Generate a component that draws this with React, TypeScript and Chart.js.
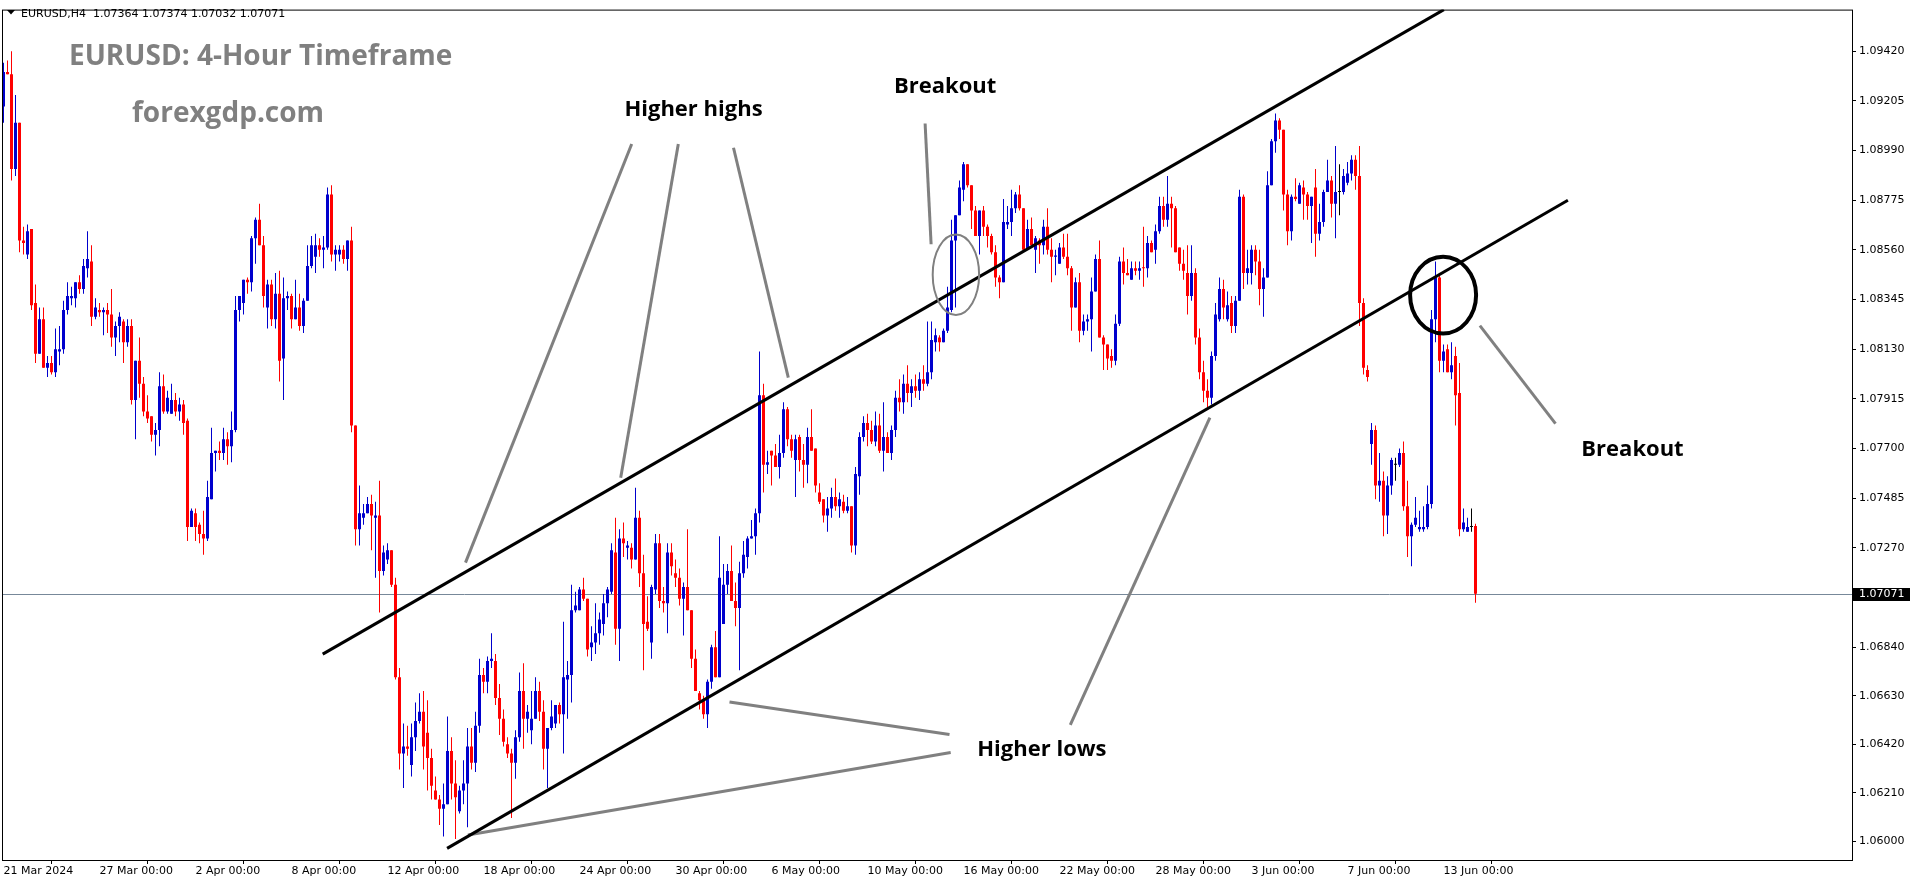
import { useEffect, useRef } from "react";
import { Chart, registerables } from "chart.js";

Chart.register(...registerables);

// ---------- header / titles ----------
const symbolHeader = "EURUSD,H4  1.07364 1.07374 1.07032 1.07071";
const chartTitle = "EURUSD: 4-Hour Timeframe";
const siteName = "forexgdp.com";

// ---------- EURUSD H4 candles (21 Mar 2024 00:00 .. 14 Jun 2024) ----------
const opens = [
  1.0918, 1.0933, 1.0932, 1.0891, 1.0911, 1.0860, 1.0854, 1.0865, 1.0833, 1.0811,
  1.0826, 1.0805, 1.0807, 1.0803, 1.0812, 1.0813, 1.0830, 1.0835, 1.0835, 1.0842,
  1.0839, 1.0848, 1.0851, 1.0827, 1.0830, 1.0829, 1.0830, 1.0828, 1.0818, 1.0823,
  1.0825, 1.0816, 1.0823, 1.0791, 1.0808, 1.0798, 1.0786, 1.0784, 1.0776, 1.0778,
  1.0797, 1.0786, 1.0785, 1.0791, 1.0786, 1.0789, 1.0782, 1.0736, 1.0742, 1.0737,
  1.0733, 1.0731, 1.0748, 1.0768, 1.0769, 1.0768, 1.0774, 1.0771, 1.0778, 1.0830,
  1.0833, 1.0843, 1.0842, 1.0861, 1.0869, 1.0858, 1.0831, 1.0841, 1.0826, 1.0837,
  1.0809, 1.0835, 1.0836, 1.0826, 1.0831, 1.0823, 1.0834, 1.0849, 1.0853, 1.0858,
  1.0856, 1.0857, 1.0880, 1.0854, 1.0854, 1.0856, 1.0852, 1.0860, 1.0780, 1.0735,
  1.0740, 1.0742, 1.0746, 1.0740, 1.0741, 1.0717, 1.0722, 1.0726, 1.0711, 1.0671,
  1.0638, 1.0641, 1.0633, 1.0645, 1.0652, 1.0656, 1.0647, 1.0636, 1.0622, 1.0618,
  1.0614, 1.0616, 1.0639, 1.0625, 1.0613, 1.0622, 1.0625, 1.0641, 1.0634, 1.0650,
  1.0672, 1.0669, 1.0678, 1.0678, 1.0662, 1.0653, 1.0642, 1.0638, 1.0634, 1.0645,
  1.0665, 1.0653, 1.0648, 1.0653, 1.0665, 1.0656, 1.0640, 1.0649, 1.0651, 1.0659,
  1.0655, 1.0670, 1.0672, 1.0700, 1.0700, 1.0709, 1.0705, 1.0684, 1.0686, 1.0690,
  1.0694, 1.0703, 1.0708, 1.0725, 1.0692, 1.0731, 1.0727, 1.0727, 1.0722, 1.0740,
  1.0716, 1.0695, 1.0686, 1.0709, 1.0729, 1.0704, 1.0703, 1.0725, 1.0716, 1.0714,
  1.0705, 1.0710, 1.0700, 1.0679, 1.0664, 1.0661, 1.0655, 1.0669, 1.0684, 1.0671,
  1.0694, 1.0711, 1.0717, 1.0704, 1.0701, 1.0716, 1.0723, 1.0731, 1.0732, 1.0742,
  1.0793, 1.0763, 1.0769, 1.0767, 1.0762, 1.0768, 1.0787, 1.0774, 1.0765, 1.0775,
  1.0765, 1.0763, 1.0775, 1.0770, 1.0751, 1.0748, 1.0741, 1.0744, 1.0749, 1.0745,
  1.0747, 1.0743, 1.0745, 1.0728, 1.0758, 1.0775, 1.0781, 1.0778, 1.0773, 1.0780,
  1.0769, 1.0775, 1.0768, 1.0778, 1.0792, 1.0790, 1.0798, 1.0794, 1.0797, 1.0795,
  1.0800, 1.0798, 1.0803, 1.0816, 1.0818, 1.0816, 1.0821, 1.0830, 1.0860, 1.0871,
  1.0882, 1.0893, 1.0884, 1.0873, 1.0862, 1.0873, 1.0866, 1.0862, 1.0855, 1.0844,
  1.0842, 1.0867, 1.0868, 1.0874, 1.0880, 1.0874, 1.0856, 1.0865, 1.0856, 1.0860,
  1.0858, 1.0866, 1.0856, 1.0853, 1.0850, 1.0857, 1.0853, 1.0848, 1.0831, 1.0842,
  1.0821, 1.0825, 1.0826, 1.0838, 1.0852, 1.0818, 1.0815, 1.0810, 1.0808, 1.0824,
  1.0851, 1.0846, 1.0843, 1.0848, 1.0847, 1.08485, 1.0848, 1.0859, 1.0856, 1.0864,
  1.0875, 1.0869, 1.0876, 1.0874, 1.0857, 1.0850, 1.0846, 1.0836, 1.0846, 1.0818,
  1.0803, 1.0795, 1.0792, 1.0810, 1.0826, 1.0839, 1.0826, 1.0833, 1.0823, 1.0834,
  1.0879, 1.0846, 1.0846, 1.0856, 1.0851, 1.0839, 1.0844, 1.0884, 1.0903, 1.0912,
  1.0908, 1.0880, 1.0864, 1.0879, 1.0876, 1.0883, 1.0880, 1.0875, 1.0883, 1.0863,
  1.0868, 1.0881, 1.0886, 1.0876, 1.0881, 1.0881, 1.0885, 1.0889, 1.0895, 1.0888,
  1.0833, 1.0804, 1.0772, 1.0778, 1.0754, 1.0756, 1.0741, 1.0754, 1.0763, 1.0763,
  1.0768, 1.0745, 1.0732, 1.0737, 1.0735, 1.0735, 1.0736, 1.0746, 1.0826, 1.0844,
  1.0808, 1.0813, 1.0803, 1.0810, 1.0794, 1.0735, 1.0734, 1.0736, 1.07364,
];
const highs = [
  1.0937, 1.0938, 1.0942, 1.0923, 1.0911, 1.0866, 1.0867, 1.0865, 1.0841, 1.0831,
  1.0831, 1.0810, 1.0810, 1.0822, 1.0823, 1.0834, 1.0842, 1.0840, 1.0842, 1.0845,
  1.0852, 1.0864, 1.0858, 1.0835, 1.0833, 1.0831, 1.0833, 1.0839, 1.0825, 1.0829,
  1.0826, 1.0826, 1.0826, 1.0808, 1.0818, 1.0801, 1.0793, 1.0784, 1.0781, 1.0803,
  1.0802, 1.0795, 1.0798, 1.0794, 1.0792, 1.0791, 1.0783, 1.0744, 1.0744, 1.0738,
  1.0743, 1.0756, 1.0779, 1.0769, 1.0773, 1.0779, 1.0777, 1.0786, 1.0836, 1.0836,
  1.0843, 1.0844, 1.0862, 1.0870, 1.0876, 1.0862, 1.0843, 1.0843, 1.0846, 1.0847,
  1.0844, 1.0838, 1.0837, 1.0843, 1.0837, 1.0835, 1.0858, 1.0862, 1.0863, 1.0861,
  1.0862, 1.0883, 1.0884, 1.0858, 1.0858, 1.0858, 1.0860, 1.0866, 1.0780, 1.0754,
  1.0746, 1.0749, 1.0750, 1.0747, 1.0756, 1.0728, 1.0729, 1.0726, 1.0714, 1.0675,
  1.0651, 1.0650, 1.0651, 1.0660, 1.0664, 1.0665, 1.0661, 1.0640, 1.0628, 1.0620,
  1.0625, 1.0654, 1.0645, 1.0635, 1.0624, 1.0635, 1.0649, 1.0649, 1.0656, 1.0679,
  1.0675, 1.0680, 1.0690, 1.0681, 1.0668, 1.0657, 1.0645, 1.0640, 1.0648, 1.0673,
  1.0677, 1.0659, 1.0665, 1.0671, 1.0669, 1.0661, 1.0649, 1.0661, 1.0659, 1.0660,
  1.0695, 1.0678, 1.0711, 1.0708, 1.0710, 1.0714, 1.0705, 1.0693, 1.0703, 1.0699,
  1.0707, 1.0710, 1.0729, 1.0740, 1.0735, 1.0738, 1.0730, 1.0729, 1.0753, 1.0743,
  1.0724, 1.0706, 1.0711, 1.0733, 1.0733, 1.0710, 1.0729, 1.0729, 1.0722, 1.0718,
  1.0712, 1.0735, 1.0700, 1.0683, 1.0665, 1.0663, 1.0670, 1.0685, 1.0691, 1.0732,
  1.0720, 1.0720, 1.0728, 1.0712, 1.0721, 1.0730, 1.0732, 1.0739, 1.0744, 1.0812,
  1.0798, 1.0769, 1.0769, 1.0772, 1.0776, 1.0790, 1.0788, 1.0776, 1.0776, 1.0776,
  1.0772, 1.0779, 1.0787, 1.0770, 1.0755, 1.0748, 1.0749, 1.0753, 1.0757, 1.0751,
  1.0750, 1.0749, 1.0745, 1.0762, 1.0777, 1.0784, 1.0785, 1.0782, 1.0786, 1.0785,
  1.0790, 1.0777, 1.0780, 1.0795, 1.0800, 1.0802, 1.0806, 1.0800, 1.0802, 1.0803,
  1.0806, 1.0825, 1.0825, 1.0822, 1.0819, 1.0822, 1.0840, 1.0869, 1.0871, 1.0886,
  1.0894, 1.0893, 1.0884, 1.0875, 1.0873, 1.0875, 1.0867, 1.0863, 1.0858, 1.0845,
  1.0878, 1.0875, 1.0882, 1.0881, 1.0884, 1.0874, 1.0869, 1.0870, 1.0862, 1.0861,
  1.0869, 1.0874, 1.0861, 1.0856, 1.0859, 1.0863, 1.0863, 1.0849, 1.0844, 1.0846,
  1.0828, 1.0828, 1.0844, 1.0854, 1.0860, 1.0819, 1.0815, 1.0813, 1.0828, 1.0853,
  1.0857, 1.0852, 1.0851, 1.0851, 1.0851, 1.0866, 1.0862, 1.0860, 1.0867, 1.0879,
  1.0879, 1.0888, 1.0879, 1.0875, 1.0857, 1.0856, 1.0858, 1.0858, 1.0848, 1.0822,
  1.0808, 1.0800, 1.0812, 1.0833, 1.0844, 1.0843, 1.0838, 1.0836, 1.0836, 1.0882,
  1.0880, 1.0856, 1.0858, 1.0858, 1.0856, 1.0848, 1.0890, 1.0904, 1.0915, 1.0913,
  1.0908, 1.0882, 1.0880, 1.0887, 1.0885, 1.0886, 1.0881, 1.0879, 1.0891, 1.0876,
  1.0882, 1.0895, 1.0888, 1.0901, 1.0893, 1.0891, 1.0894, 1.0897, 1.0897, 1.0901,
  1.0835, 1.0806, 1.0781, 1.0780, 1.0768, 1.0760, 1.0758, 1.0766, 1.0766, 1.0770,
  1.0773, 1.0756, 1.0738, 1.0749, 1.0743, 1.0745, 1.0754, 1.0830, 1.0851, 1.0845,
  1.0815, 1.0815, 1.0816, 1.0814, 1.0807, 1.0744, 1.0740, 1.0744, 1.07374,
];
const lows = [
  1.0911, 1.0932, 1.0886, 1.0888, 1.0855, 1.0854, 1.0852, 1.0830, 1.0807, 1.0811,
  1.0805, 1.0801, 1.0802, 1.0801, 1.0806, 1.0811, 1.0828, 1.0832, 1.0831, 1.0837,
  1.0837, 1.0844, 1.0823, 1.0826, 1.0827, 1.0819, 1.0820, 1.0814, 1.0810, 1.0816,
  1.0807, 1.0814, 1.0789, 1.0774, 1.0792, 1.0784, 1.0781, 1.0773, 1.0767, 1.0771,
  1.0785, 1.0785, 1.0785, 1.0784, 1.0782, 1.0776, 1.0730, 1.0736, 1.0730, 1.0729,
  1.0724, 1.0730, 1.0748, 1.0760, 1.0765, 1.0765, 1.0763, 1.0764, 1.0777, 1.0825,
  1.0828, 1.0837, 1.0838, 1.0850, 1.0858, 1.0831, 1.0822, 1.0823, 1.0822, 1.0799,
  1.0791, 1.0830, 1.0822, 1.0826, 1.0821, 1.0820, 1.0834, 1.0848, 1.0846, 1.0853,
  1.0848, 1.0856, 1.0851, 1.0847, 1.0851, 1.0850, 1.0847, 1.0777, 1.0728, 1.0728,
  1.0737, 1.0742, 1.0726, 1.0714, 1.0699, 1.0715, 1.0720, 1.0710, 1.0670, 1.0631,
  1.0623, 1.0637, 1.0628, 1.0639, 1.0651, 1.0631, 1.0622, 1.0618, 1.0618, 1.0607,
  1.0602, 1.0616, 1.0618, 1.0601, 1.0612, 1.0616, 1.0606, 1.0631, 1.0630, 1.0647,
  1.0664, 1.0664, 1.0675, 1.0659, 1.0646, 1.0641, 1.0636, 1.0610, 1.0627, 1.0643,
  1.0640, 1.0647, 1.0642, 1.0653, 1.0652, 1.0631, 1.0623, 1.0648, 1.0649, 1.0651,
  1.0638, 1.0653, 1.0660, 1.0699, 1.0700, 1.0704, 1.0680, 1.0678, 1.0681, 1.0685,
  1.0689, 1.0697, 1.0707, 1.0685, 1.0678, 1.0723, 1.0722, 1.0718, 1.0722, 1.0710,
  1.0674, 1.0691, 1.0679, 1.0707, 1.0701, 1.0699, 1.0690, 1.0715, 1.0710, 1.0702,
  1.0689, 1.0700, 1.0675, 1.0665, 1.0657, 1.0653, 1.0649, 1.0666, 1.0671, 1.0671,
  1.0694, 1.0707, 1.0704, 1.0693, 1.0674, 1.0714, 1.0718, 1.0731, 1.0724, 1.0738,
  1.0751, 1.0759, 1.0754, 1.0762, 1.0757, 1.0766, 1.0771, 1.0766, 1.0749, 1.0760,
  1.0753, 1.0755, 1.0769, 1.0751, 1.0746, 1.0738, 1.0734, 1.0740, 1.0743, 1.0740,
  1.0742, 1.0742, 1.0725, 1.0724, 1.0750, 1.0773, 1.0771, 1.0772, 1.0771, 1.0768,
  1.0760, 1.0768, 1.0765, 1.0775, 1.0786, 1.0785, 1.0790, 1.0788, 1.0792, 1.0791,
  1.0795, 1.0797, 1.0800, 1.0812, 1.0812, 1.0816, 1.0820, 1.0829, 1.0831, 1.0871,
  1.0877, 1.0883, 1.0865, 1.0862, 1.0854, 1.0862, 1.0857, 1.0854, 1.0840, 1.0835,
  1.0842, 1.0865, 1.0862, 1.0872, 1.0873, 1.0856, 1.0856, 1.0858, 1.0846, 1.0850,
  1.0854, 1.0854, 1.0842, 1.0845, 1.0850, 1.0852, 1.0845, 1.0821, 1.0831, 1.0816,
  1.0819, 1.0821, 1.0812, 1.0838, 1.0818, 1.0804, 1.0804, 1.0805, 1.0806, 1.0823,
  1.0841, 1.0845, 1.0843, 1.0845, 1.0843, 1.0840, 1.0844, 1.0855, 1.0850, 1.0863,
  1.0866, 1.0866, 1.0857, 1.0855, 1.0847, 1.0843, 1.0828, 1.0834, 1.0815, 1.0800,
  1.0790, 1.0788, 1.0789, 1.0808, 1.0825, 1.0826, 1.0825, 1.0820, 1.0820, 1.0834,
  1.0839, 1.0841, 1.0841, 1.0845, 1.0832, 1.0827, 1.0844, 1.0884, 1.0898, 1.0904,
  1.0873, 1.0858, 1.0860, 1.0877, 1.0876, 1.0869, 1.0869, 1.0859, 1.0853, 1.0860,
  1.0866, 1.0881, 1.0870, 1.0861, 1.0871, 1.0880, 1.0884, 1.0886, 1.0882, 1.0823,
  1.0802, 1.0799, 1.0763, 1.0748, 1.0747, 1.0732, 1.0733, 1.0750, 1.0756, 1.0762,
  1.0743, 1.0723, 1.0719, 1.0736, 1.0734, 1.0734, 1.0735, 1.0744, 1.0816, 1.0803,
  1.0803, 1.0803, 1.0800, 1.0780, 1.0732, 1.0734, 1.0734, 1.0734, 1.07032,
];
const closes = [
  1.0933, 1.0932, 1.0891, 1.0911, 1.0860, 1.0859, 1.0864, 1.0832, 1.0811, 1.0826,
  1.0805, 1.0807, 1.0803, 1.0813, 1.0813, 1.0830, 1.0836, 1.0836, 1.0842, 1.0839,
  1.0849, 1.0852, 1.0827, 1.0831, 1.0829, 1.0830, 1.0828, 1.0818, 1.0823, 1.0827,
  1.0816, 1.0823, 1.0791, 1.0808, 1.0798, 1.0786, 1.0783, 1.0776, 1.0778, 1.0797,
  1.0786, 1.0792, 1.0791, 1.0786, 1.0789, 1.0781, 1.0736, 1.0743, 1.0736, 1.0733,
  1.0731, 1.0749, 1.0768, 1.0769, 1.0768, 1.0774, 1.0771, 1.0778, 1.0830, 1.0836,
  1.0843, 1.0842, 1.0861, 1.0869, 1.0858, 1.0836, 1.0841, 1.0826, 1.0837, 1.0808,
  1.0835, 1.0836, 1.0826, 1.0831, 1.0823, 1.0834, 1.0849, 1.0858, 1.0858, 1.0856,
  1.0857, 1.0880, 1.0854, 1.0856, 1.0856, 1.0852, 1.0860, 1.0780, 1.0735, 1.0742,
  1.0742, 1.0746, 1.0741, 1.0741, 1.0717, 1.0725, 1.0726, 1.0711, 1.0671, 1.0638,
  1.0641, 1.0640, 1.0645, 1.0652, 1.0656, 1.0641, 1.0636, 1.0624, 1.0618, 1.0614,
  1.0616, 1.0639, 1.0625, 1.0619, 1.0622, 1.0625, 1.0641, 1.0634, 1.0650, 1.0672,
  1.0669, 1.0678, 1.0679, 1.0662, 1.0653, 1.0643, 1.0638, 1.0634, 1.0645, 1.0665,
  1.0653, 1.0656, 1.0653, 1.0665, 1.0656, 1.0640, 1.0649, 1.0654, 1.0659, 1.0655,
  1.0671, 1.0672, 1.0700, 1.0702, 1.0709, 1.0705, 1.0683, 1.0686, 1.0690, 1.0696,
  1.0703, 1.0709, 1.0726, 1.0692, 1.0731, 1.0729, 1.0728, 1.0722, 1.0740, 1.0716,
  1.0694, 1.0692, 1.0710, 1.0729, 1.0704, 1.0703, 1.0725, 1.0719, 1.0714, 1.0705,
  1.0710, 1.0700, 1.0679, 1.0665, 1.0661, 1.0655, 1.0669, 1.0684, 1.0671, 1.0714,
  1.0711, 1.0717, 1.0704, 1.0701, 1.0716, 1.0724, 1.0731, 1.0732, 1.0742, 1.0793,
  1.0763, 1.0764, 1.0767, 1.0762, 1.0768, 1.0787, 1.0774, 1.0769, 1.0774, 1.0765,
  1.0763, 1.0775, 1.0769, 1.0754, 1.0747, 1.0741, 1.0744, 1.0749, 1.0745, 1.0748,
  1.0743, 1.0745, 1.0728, 1.0759, 1.0775, 1.0781, 1.0778, 1.0773, 1.0780, 1.0769,
  1.0775, 1.0768, 1.0778, 1.0792, 1.0790, 1.0798, 1.0794, 1.0797, 1.0795, 1.0800,
  1.0798, 1.0803, 1.0817, 1.0819, 1.0816, 1.0821, 1.0831, 1.0860, 1.0871, 1.0883,
  1.0893, 1.0884, 1.0873, 1.0862, 1.0873, 1.0866, 1.0862, 1.0855, 1.0844, 1.0842,
  1.0868, 1.0868, 1.0874, 1.0880, 1.0874, 1.0856, 1.0865, 1.0858, 1.0861, 1.0858,
  1.0866, 1.0856, 1.0853, 1.08535, 1.0857, 1.0853, 1.0848, 1.0831, 1.0842, 1.0821,
  1.0825, 1.0826, 1.0838, 1.0852, 1.0818, 1.0815, 1.0809, 1.0808, 1.0824, 1.0851,
  1.0846, 1.0845, 1.0848, 1.0847, 1.0848, 1.0848, 1.0859, 1.0855, 1.0864, 1.0875,
  1.0869, 1.0876, 1.0874, 1.0855, 1.0850, 1.0847, 1.0836, 1.0846, 1.0818, 1.0803,
  1.0795, 1.0792, 1.0810, 1.0828, 1.0839, 1.0831, 1.0832, 1.0823, 1.0834, 1.0879,
  1.0846, 1.0848, 1.0856, 1.0851, 1.0839, 1.0844, 1.0884, 1.0903, 1.0912, 1.0908,
  1.0880, 1.0864, 1.0879, 1.0878, 1.0884, 1.0880, 1.0875, 1.0879, 1.0863, 1.0868,
  1.0881, 1.0886, 1.0876, 1.0881, 1.0881, 1.0888, 1.0889, 1.0895, 1.0888, 1.0833,
  1.0805, 1.0801, 1.0778, 1.0754, 1.0756, 1.0741, 1.0754, 1.0765, 1.0763, 1.0768,
  1.0745, 1.0732, 1.0737, 1.0740, 1.0736, 1.0736, 1.0746, 1.0826, 1.0844, 1.0808,
  1.0812, 1.0803, 1.0806, 1.0793, 1.0735, 1.0738, 1.0736, 1.0736, 1.07071,
];

// ---------- axes ----------
const dateLabelBars = [0, 24, 48, 72, 96, 120, 144, 168, 192, 216, 240, 264, 288, 312, 336, 360];
const dateLabels = [
  "21 Mar 2024", "27 Mar 00:00", "2 Apr 00:00", "8 Apr 00:00", "12 Apr 00:00", "18 Apr 00:00",
  "24 Apr 00:00", "30 Apr 00:00", "6 May 00:00", "10 May 00:00", "16 May 00:00", "22 May 00:00",
  "28 May 00:00", "3 Jun 00:00", "7 Jun 00:00", "13 Jun 00:00",
];
const priceTicks = [
  1.0942, 1.09205, 1.0899, 1.08775, 1.0856, 1.08345, 1.0813, 1.07915, 1.077, 1.07485,
  1.0727, 1.07055, 1.0684, 1.0663, 1.0642, 1.0621, 1.06,
];
const priceMin = 1.059186;
const priceMax = 1.096;
const barMin = -0.375;
const barMax = 462.125;

// ---------- annotations in (bar index, price) ----------
const channelUpper = [[79.8, 1.0681], [360.1, 1.096]];
const channelLower = [[110.9, 1.05969], [391.1, 1.08775]];
const pointerLines = [
  [[157.05, 1.09018], [115.5, 1.07206]],
  [[168.7, 1.09018], [154.3, 1.07573]],
  [[182.5, 1.09002], [196.2, 1.08007]],
  [[230.4, 1.09107], [231.9, 1.08584]],
  [[236.5, 1.06462], [181.5, 1.06603]],
  [[236.8, 1.06384], [116.1, 1.06027]],
  [[266.7, 1.06504], [301.6, 1.07834]],
  [[369.1, 1.08232], [388.0, 1.07808]],
];
const grayEllipse = { bar: 238.1, price: 1.08452, rBars: 5.8, rPrice: 0.00174 };
const blackEllipse = { bar: 359.9, price: 1.08364, rBars: 8.25, rPrice: 0.00166 };
const noteTexts = [
  { text: "Higher highs", bar: 172.5, price: 1.09166 },
  { text: "Breakout", bar: 235.4, price: 1.09266 },
  { text: "Higher lows", bar: 259.6, price: 1.06394 },
  { text: "Breakout", bar: 407.25, price: 1.07693 },
];

const BULL = "#0000CD";
const BEAR = "#FF0000";
const DOJI = "#000000";
const MT_FONT = "11px 'DejaVu Sans'";

const overlayPlugin = {
  id: "mtOverlay",
  beforeDatasetsDraw(chart: any) {
    const { ctx, chartArea: a, scales } = chart;
    const last = closes[closes.length - 1];
    const yy = Math.round(scales.y.getPixelForValue(last)) + 0.5;
    ctx.save();
    ctx.strokeStyle = "#778899";
    ctx.lineWidth = 1;
    ctx.beginPath();
    ctx.moveTo(a.left, yy);
    ctx.lineTo(a.right, yy);
    ctx.stroke();
    ctx.restore();
  },
  afterDatasetsDraw(chart: any) {
    const { ctx, chartArea: a, scales } = chart;
    const px = (b: number) => scales.x.getPixelForValue(b);
    const py = (p: number) => scales.y.getPixelForValue(p);
    ctx.save();
    ctx.beginPath();
    ctx.rect(a.left, a.top, a.right - a.left, a.bottom - a.top);
    ctx.clip();

    // gray pointer lines
    ctx.strokeStyle = "#808080";
    ctx.lineWidth = 3;
    ctx.lineCap = "butt";
    for (const seg of pointerLines) {
      ctx.beginPath();
      ctx.moveTo(px(seg[0][0]), py(seg[0][1]));
      ctx.lineTo(px(seg[1][0]), py(seg[1][1]));
      ctx.stroke();
    }

    // channel lines
    ctx.strokeStyle = "#000000";
    ctx.lineWidth = 3;
    for (const seg of [channelUpper, channelLower]) {
      ctx.beginPath();
      ctx.moveTo(px(seg[0][0]), py(seg[0][1]));
      ctx.lineTo(px(seg[1][0]), py(seg[1][1]));
      ctx.stroke();
    }

    // ellipses
    const drawEllipse = (e: any, color: string, w: number) => {
      const cx = px(e.bar);
      const cy = py(e.price);
      const rx = Math.abs(px(e.bar + e.rBars) - cx);
      const ry = Math.abs(py(e.price + e.rPrice) - cy);
      ctx.strokeStyle = color;
      ctx.lineWidth = w;
      ctx.beginPath();
      ctx.ellipse(cx, cy, rx, ry, 0, 0, Math.PI * 2);
      ctx.stroke();
    };
    drawEllipse(grayEllipse, "#808080", 2);
    drawEllipse(blackEllipse, "#000000", 4);

    // annotation texts
    ctx.fillStyle = "#000000";
    ctx.font = "bold 22px 'Open Sans'";
    ctx.textAlign = "center";
    ctx.textBaseline = "middle";
    for (const t of noteTexts) ctx.fillText(t.text, px(t.bar), py(t.price));

    // titles
    ctx.fillStyle = "#808080";
    ctx.textAlign = "left";
    ctx.textBaseline = "alphabetic";
    ctx.font = "bold 28px 'Open Sans'";
    ctx.fillText(chartTitle, 69, 65);
    ctx.fillText(siteName, 132, 122);
    ctx.restore();
  },
  afterDraw(chart: any) {
    const { ctx, chartArea: a, scales } = chart;
    ctx.save();
    // frame
    ctx.strokeStyle = "#000000";
    ctx.lineWidth = 1;
    ctx.strokeRect(a.left + 0.5, a.top + 0.5, a.right - a.left, a.bottom - a.top);

    // header
    ctx.fillStyle = "#000000";
    ctx.beginPath();
    ctx.moveTo(7, 10);
    ctx.lineTo(15, 10);
    ctx.lineTo(11, 14.5);
    ctx.closePath();
    ctx.fill();
    ctx.font = MT_FONT;
    ctx.textAlign = "left";
    ctx.textBaseline = "alphabetic";
    ctx.fillText(symbolHeader, 21, 17);

    // current price label
    const last = closes[closes.length - 1];
    const yy = Math.round(scales.y.getPixelForValue(last));
    ctx.fillStyle = "#000000";
    ctx.fillRect(a.right + 1, yy - 6, 57, 13);
    ctx.fillStyle = "#FFFFFF";
    ctx.textBaseline = "middle";
    ctx.fillText(last.toFixed(5), a.right + 7, yy + 0.5);
    ctx.restore();
  },
};

export default function App() {
  const canvasRef = useRef<HTMLCanvasElement | null>(null);

  useEffect(() => {
    const n = closes.length;
    const bodies: any[] = [];
    const wicks: any[] = [];
    const colors: string[] = [];
    for (let i = 0; i < n; i++) {
      const o = opens[i];
      const c = closes[i];
      bodies.push({ x: i, y: [Math.min(o, c), Math.max(o, c)] });
      wicks.push({ x: i, y: [lows[i], highs[i]] });
      colors.push(c > o ? BULL : c < o ? BEAR : DOJI);
    }

    const chart = new Chart(canvasRef.current as HTMLCanvasElement, {
      type: "bar",
      data: {
        datasets: [
          {
            data: bodies,
            backgroundColor: colors,
            borderWidth: 0,
            barThickness: 3,
            grouped: false,
            minBarLength: 1,
            inflateAmount: 0,
          } as any,
          {
            data: wicks,
            backgroundColor: colors,
            borderWidth: 0,
            barThickness: 1,
            grouped: false,
            inflateAmount: 0,
          } as any,
        ],
      },
      options: {
        animation: false,
        responsive: false,
        devicePixelRatio: 1,
        events: [],
        layout: { padding: { left: 2, top: 1, right: 0, bottom: 0 } },
        plugins: { legend: { display: false }, tooltip: { enabled: false } },
        scales: {
          x: {
            type: "linear",
            position: "bottom",
            min: barMin,
            max: barMax,
            offset: false,
            afterBuildTicks: (s: any) => {
              s.ticks = dateLabelBars.map((v) => ({ value: v }));
            },
            afterFit: (s: any) => {
              s.height = 24;
            },
            ticks: {
              autoSkip: false,
              maxRotation: 0,
              minRotation: 0,
              align: "start",
              padding: 1,
              color: "#000000",
              font: { family: "DejaVu Sans", size: 11 },
              callback: (_v: any, idx: number) => dateLabels[idx],
            },
            grid: { display: true, drawOnChartArea: false, drawTicks: true, tickLength: 4, color: "#000000" },
            border: { display: false },
          },
          y: {
            type: "linear",
            position: "right",
            min: priceMin,
            max: priceMax,
            afterBuildTicks: (s: any) => {
              s.ticks = priceTicks.map((v) => ({ value: v }));
            },
            afterFit: (s: any) => {
              s.width = 64;
            },
            ticks: {
              autoSkip: false,
              padding: 3,
              color: "#000000",
              font: { family: "DejaVu Sans", size: 11 },
              callback: (v: any) => Number(v).toFixed(5),
            },
            grid: { display: true, drawOnChartArea: false, drawTicks: true, tickLength: 4, color: "#000000" },
            border: { display: false },
          },
        },
      } as any,
      plugins: [overlayPlugin as any],
    });

    return () => chart.destroy();
  }, []);

  return (
    <div style={{ position: "fixed", left: 0, top: 0, width: 1916, height: 884, background: "#ffffff" }}>
      <canvas ref={canvasRef} width={1916} height={884} style={{ display: "block", width: 1916, height: 884 }} />
    </div>
  );
}
